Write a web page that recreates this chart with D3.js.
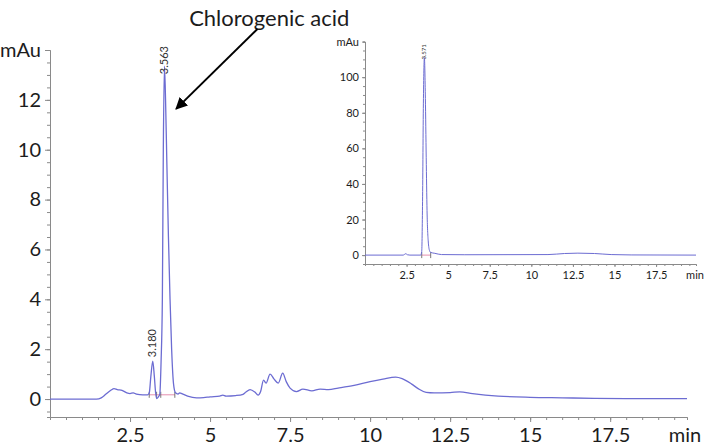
<!DOCTYPE html>
<html>
<head>
<meta charset="utf-8">
<script src="https://cdn.jsdelivr.net/npm/d3@7"></script>
<style>
  html, body { margin: 0; padding: 0; background: #fff; }
  svg { display: block; font-family: Lato, "Open Sans", sans-serif; }
</style>
</head>
<body>
<div id="chart"></div>
<script>
// main chromatogram (retention time in min, signal in mAu)
const mainTime = [0, 1.45, 1.6, 1.75, 1.9, 2.0, 2.1, 2.25, 2.4, 2.5, 2.6, 2.7, 2.9, 3.05,
  3.1, 3.15, 3.21, 3.26, 3.3, 3.33, 3.38, 3.43, 3.47, 3.51, 3.54, 3.575, 3.61, 3.65, 3.7,
  3.75, 3.8, 3.86, 3.92, 4.0, 4.05, 4.15, 4.3, 4.58, 4.8, 5.0, 5.3, 5.4, 5.5, 5.8, 6.03,
  6.12, 6.25, 6.4, 6.5, 6.58, 6.67, 6.75, 6.875, 7.0, 7.13, 7.27, 7.38, 7.5, 7.7, 7.9,
  8.18, 8.44, 8.7, 9.0, 9.5, 10.0, 10.4, 10.8, 11.0, 11.3, 11.5, 11.75, 12.0, 12.5, 12.8,
  13.2, 14.0, 15.0, 16.0, 17.0, 18.0, 19.9];
const mainSignal = [0, 0, 0.05, 0.2, 0.35, 0.42, 0.38, 0.35, 0.25, 0.22, 0.25, 0.2, 0.17, 0.17,
  0.24, 0.9, 1.52, 0.9, 0.25, 0.02, 0.08, 0.2, 1.5, 4.0, 10, 13.35, 12, 9.5, 6.5,
  4.0, 2.0, 0.6, 0.25, 0.2, 0.25, 0.2, 0.12, 0.05, 0.06, 0.09, 0.12, 0.16, 0.12, 0.14, 0.19,
  0.28, 0.38, 0.28, 0.16, 0.3, 0.76, 0.64, 1.0, 0.8, 0.64, 1.04, 0.7, 0.44, 0.3, 0.4,
  0.33, 0.4, 0.38, 0.44, 0.55, 0.7, 0.8, 0.88, 0.82, 0.6, 0.42, 0.27, 0.25, 0.26, 0.29,
  0.22, 0.12, 0.07, 0.05, 0.03, 0.02, 0.02];

// inset: standard injection
const insetTime = [0, 2.3, 2.45, 2.55, 2.7, 3.35, 3.41, 3.46, 3.51, 3.57, 3.63, 3.68, 3.73,
  3.8, 3.88, 3.95, 4.2, 4.6, 6.0, 11.0, 12.0, 12.8, 13.8, 14.8, 16.0, 19.9];
const insetSignal = [0, 0, 0.8, 0.2, 0, 0, 2, 30, 85, 111, 88, 55, 25,
  8, 2.5, 1.5, 1.0, 0.3, 0.2, 0.3, 0.9, 1.1, 0.9, 0.3, 0.1, 0];

const mainPeaks = [{ t: 3.18, label: "3.180", top: 1.52 }, { t: 3.563, label: "3.563", top: 13.35 }];
const insetPeaks = [{ t: 3.571, label: "3.571", top: 111 }];

const mainYMajor = [0, 2, 4, 6, 8, 10, 12, 14];
const mainXMajor = [2.5, 5, 7.5, 10, 12.5, 15, 17.5];
const insetYMajor = [0, 20, 40, 60, 80, 100, 120];
const insetXMajor = [2.5, 5, 7.5, 10, 12.5, 15, 17.5];

const lineColor = "#6c6cd2";
const axisColor = "#8a8a8a";
const textColor = "#1c1c1c";

const width = 709, height = 445;
const svg = d3.select("#chart").append("svg")
  .attr("width", width)
  .attr("height", height);

svg.append("defs").append("marker")
  .attr("id", "arrowhead")
  .attr("viewBox", "0 0 10 10")
  .attr("refX", 9).attr("refY", 5)
  .attr("markerWidth", 6).attr("markerHeight", 6)
  .attr("markerUnits", "strokeWidth")
  .attr("orient", "auto")
  .append("path")
  .attr("d", "M0,0 L10,5 L0,10 z")
  .attr("fill", "#000");

function drawPanel(opt) {
  const x = d3.scaleLinear().domain(opt.xDomain).range(opt.xRange);
  const y = d3.scaleLinear().domain(opt.yDomain).range(opt.yRange);
  const g = svg.append("g");

  // minor ticks
  g.append("g")
    .attr("transform", `translate(${opt.xRange[0]},0)`)
    .call(d3.axisLeft(y).tickValues(opt.yMinor).tickSize(opt.minorSize).tickFormat(""));
  g.append("g")
    .attr("transform", `translate(0,${opt.yRange[0]})`)
    .call(d3.axisBottom(x).tickValues(opt.xMinor).tickSize(opt.minorSize).tickFormat(""));

  // major ticks with labels
  g.append("g")
    .attr("transform", `translate(${opt.xRange[0]},0)`)
    .call(d3.axisLeft(y).tickValues(opt.yMajor).tickSize(opt.majorSize)
      .tickSizeOuter(0).tickPadding(opt.yPad)
      .tickFormat(d => d === opt.yMajor[opt.yMajor.length - 1] ? "mAu" : String(d)));
  g.append("g")
    .attr("transform", `translate(0,${opt.yRange[0]})`)
    .call(d3.axisBottom(x).tickValues(opt.xMajor).tickSize(opt.majorSize)
      .tickSizeOuter(0).tickPadding(opt.xPad)
      .tickFormat(d => String(d)));

  g.selectAll(".domain").attr("stroke", axisColor);
  g.selectAll(".tick line").attr("stroke", axisColor);
  g.selectAll(".tick text")
    .attr("fill", textColor)
    .style("font-size", opt.fontSize + "px")
    .style("font-family", "Lato, 'Open Sans', sans-serif");

  // "min" unit at end of x axis
  g.append("text")
    .attr("x", x(opt.xDomain[1]) - opt.minShift)
    .attr("y", opt.yRange[0] + opt.majorSize + opt.xPad)
    .attr("dy", "0.71em")
    .attr("text-anchor", "middle")
    .attr("fill", textColor)
    .style("font-size", opt.fontSize + "px")
    .text("min");

  // integration baseline
  g.append("line")
    .attr("x1", x(opt.base[0])).attr("x2", x(opt.base[1]))
    .attr("y1", y(opt.base[2])).attr("y2", y(opt.base[2]))
    .attr("stroke", "#e58fb0").attr("stroke-width", 1);

  // peak boundary marks
  opt.marks.forEach(t => {
    g.append("line")
      .attr("x1", x(t)).attr("x2", x(t))
      .attr("y1", y(opt.base[2]) - 3).attr("y2", y(opt.base[2]) + 3)
      .attr("stroke", "#555").attr("stroke-width", 0.8);
  });

  const data = opt.time.map((t, i) => ({ t, v: opt.signal[i] }));
  g.append("path")
    .datum(data)
    .attr("fill", "none")
    .attr("stroke", lineColor)
    .attr("stroke-width", opt.stroke)
    .attr("d", d3.line().x(d => x(d.t)).y(d => y(d.v)).curve(d3.curveMonotoneX));

  opt.peaks.forEach((p, i) => {
    const px = x(p.t), py = y(p.top) + opt.labelDrop[i];
    g.append("text")
      .attr("transform", `translate(${px + opt.labelDx},${py}) rotate(-90)`)
      .attr("text-anchor", "start")
      .attr("fill", "#333")
      .style("font-size", opt.labelSize + "px")
      .text(p.label);
  });

  return { x, y };
}

const main = drawPanel({
  time: mainTime, signal: mainSignal, peaks: mainPeaks,
  xDomain: [0, 19.9], xRange: [50, 687],
  yDomain: [-0.72, 14], yRange: [417, 50],
  yMajor: mainYMajor, xMajor: mainXMajor,
  yMinor: d3.range(-0.5, 14.01, 0.5), xMinor: d3.range(0.5, 19.9, 0.5),
  majorSize: 5, minorSize: 3, yPad: 4, xPad: 6, fontSize: 20,
  minShift: 2, base: [3.1, 3.9, 0.17], marks: [3.1, 3.33, 3.46, 3.9],
  stroke: 1.3, labelSize: 11, labelDrop: [-4, 8], labelDx: 4
});

drawPanel({
  time: insetTime, signal: insetSignal, peaks: insetPeaks,
  xDomain: [0, 19.9], xRange: [365, 696],
  yDomain: [-5, 120], yRange: [264, 41.6],
  yMajor: insetYMajor, xMajor: insetXMajor,
  yMinor: d3.range(-5, 120.1, 5), xMinor: d3.range(0.5, 19.9, 0.5),
  majorSize: 3, minorSize: 2, yPad: 3, xPad: 4, fontSize: 11,
  minShift: 1, base: [3.41, 3.95, 0], marks: [3.41, 3.95],
  stroke: 1, labelSize: 6, labelDrop: [2], labelDx: 2
});

// annotation
svg.append("text")
  .attr("x", main.x(6.85))
  .attr("y", main.y(14.95))
  .attr("text-anchor", "middle")
  .attr("fill", textColor)
  .style("font-size", "22px")
  .text("Chlorogenic acid");

svg.append("line")
  .attr("x1", main.x(6.48)).attr("y1", main.y(14.84))
  .attr("x2", main.x(3.94)).attr("y2", main.y(11.64))
  .attr("stroke", "#000")
  .attr("stroke-width", 2)
  .attr("marker-end", "url(#arrowhead)");
</script>
</body>
</html>
